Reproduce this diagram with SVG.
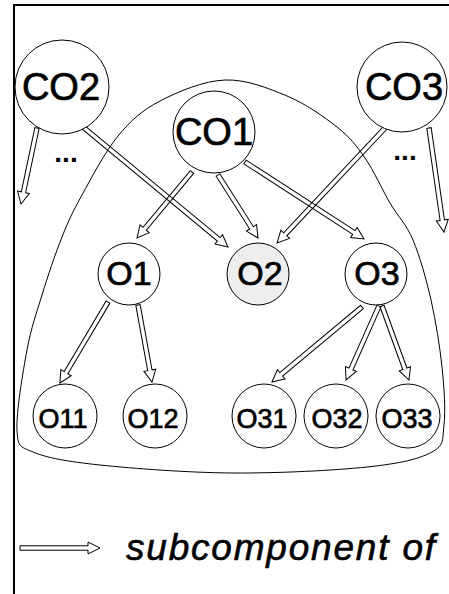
<svg xmlns="http://www.w3.org/2000/svg" width="449" height="594" viewBox="0 0 449 594">
<style>
  .node circle { fill: #ffffff; stroke: #000000; stroke-width: 1; }
  .node.hl circle { fill: #eeeeee; }
  .node text { font-family: "Liberation Sans", Arial, sans-serif; text-anchor: middle; fill: #000000; stroke: #000000; stroke-width: 0.7; }
  .big { font-size: 38px; }
  .mid { font-size: 34px; }
  .small { font-size: 27px; }
  .arrow { fill: none; stroke: #000000; stroke-width: 1; stroke-linejoin: miter; }
  .dots { font-family: "Liberation Sans", Arial, sans-serif; font-weight: bold; font-size: 28px; text-anchor: middle; }
  .legend { font-family: "Liberation Sans", Arial, sans-serif; font-style: italic; font-size: 37px; letter-spacing: 1.8px; stroke: #000000; stroke-width: 0.6; }
</style>
<rect x="14" y="5" width="460" height="620" fill="#ffffff" stroke="#000000" stroke-width="2"/>

<g id="scope">
  <path fill="none" stroke="#000000" stroke-width="1" d="M225,80 C246.2,79.2 268.3,88.2 287,96 C305.7,103.8 324,116.7 337,127 C350,137.3 356.2,145.3 365,158 C373.8,170.7 382,189.3 390,203 C398,216.7 406.2,223.8 413,240 C419.8,256.2 426.2,278.8 431,300 C435.8,321.2 439.8,346.2 442,367 C444.2,387.8 445.7,410.8 444,425 C442.3,439.2 444.8,445 432,452 C419.2,459 400.2,463.5 367,467 C333.8,470.5 277.5,473.3 233,473 C188.5,472.7 133.3,468.5 100,465 C66.7,461.5 46.8,457.8 33,452 C19.2,446.2 18,447 17,430 C16,413 22.8,372.5 27,350 C31.2,327.5 36.2,313.8 42,295 C47.8,276.2 55.3,253.7 62,237 C68.7,220.3 72.7,211.8 82,195 C91.3,178.2 105,151.7 118,136 C131,120.3 142.2,110.3 160,101 C177.8,91.7 203.8,80.8 225,80 Z"/>
</g>

<g id="connectors">
  <path class="arrow" transform="translate(37,128) rotate(101.9)" d="M0,-2.2 H65.7 V-6 L77.7,0 L65.7,6 V2.2 H0 Z"/>
  <path class="arrow" transform="translate(83,127) rotate(39.6)" d="M0,-2.2 H176.2 V-6 L188.2,0 L176.2,6 V2.2 H0 Z"/>
  <path class="arrow" transform="translate(192,172) rotate(129.8)" d="M0,-2.2 H73.9 V-6 L85.9,0 L73.9,6 V2.2 H0 Z"/>
  <path class="arrow" transform="translate(218,175) rotate(57.6)" d="M0,-2.2 H62.6 V-6 L74.6,0 L62.6,6 V2.2 H0 Z"/>
  <path class="arrow" transform="translate(245,162) rotate(32.9)" d="M0,-2.2 H129.7 V-6 L141.7,0 L129.7,6 V2.2 H0 Z"/>
  <path class="arrow" transform="translate(386,127) rotate(133.2)" d="M0,-2.2 H147.2 V-6 L159.2,0 L147.2,6 V2.2 H0 Z"/>
  <path class="arrow" transform="translate(429,128) rotate(81.8)" d="M0,-2.2 H93.1 V-6 L105.1,0 L93.1,6 V2.2 H0 Z"/>
  <path class="arrow" transform="translate(108,302) rotate(120.7)" d="M0,-2.2 H82.2 V-6 L94.2,0 L82.2,6 V2.2 H0 Z"/>
  <path class="arrow" transform="translate(138,305) rotate(79.7)" d="M0,-2.2 H66.3 V-6 L78.3,0 L66.3,6 V2.2 H0 Z"/>
  <path class="arrow" transform="translate(362,307) rotate(140.2)" d="M0,-2.2 H105.2 V-6 L117.2,0 L105.2,6 V2.2 H0 Z"/>
  <path class="arrow" transform="translate(379,306) rotate(114)" d="M0,-2.2 H69 V-6 L81,0 L69,6 V2.2 H0 Z"/>
  <path class="arrow" transform="translate(382,306) rotate(70)" d="M0,-2.2 H66.8 V-6 L78.8,0 L66.8,6 V2.2 H0 Z"/>
</g>

<g id="CO2" class="node"><circle cx="62" cy="87" r="47"/><text class="big" x="61" y="100">CO2</text></g>
<g id="CO1" class="node"><circle cx="214" cy="132" r="41"/><text class="big" x="214" y="145">CO1</text></g>
<g id="CO3" class="node"><circle cx="402" cy="87" r="45"/><text class="big" x="404" y="100">CO3</text></g>
<g id="O1" class="node"><circle cx="129" cy="274" r="31"/><text class="mid" x="129" y="285">O1</text></g>
<g id="O2" class="node hl"><circle cx="258" cy="274" r="31"/><text class="mid" x="260" y="285">O2</text></g>
<g id="O3" class="node"><circle cx="376" cy="274" r="31"/><text class="mid" x="377" y="285">O3</text></g>
<g id="O11" class="node"><circle cx="65" cy="416" r="32"/><text class="small" x="63" y="428">O11</text></g>
<g id="O12" class="node"><circle cx="155" cy="416" r="32"/><text class="small" x="153" y="428">O12</text></g>
<g id="O31" class="node"><circle cx="264" cy="416" r="32"/><text class="small" x="262" y="428">O31</text></g>
<g id="O32" class="node"><circle cx="336" cy="416" r="32"/><text class="small" x="337" y="428">O32</text></g>
<g id="O33" class="node"><circle cx="408" cy="416" r="32"/><text class="small" x="407" y="428">O33</text></g>

<g id="ellipses">
  <text class="dots" x="66" y="162">...</text>
  <text class="dots" x="405" y="160">...</text>
</g>

<g id="legend">
  <path class="arrow" d="M20,545.8 H88 V542 L100,548 L88,554 V550.2 H20 Z"/>
  <text class="legend" x="126" y="560">subcomponent of</text>
</g>
</svg>
